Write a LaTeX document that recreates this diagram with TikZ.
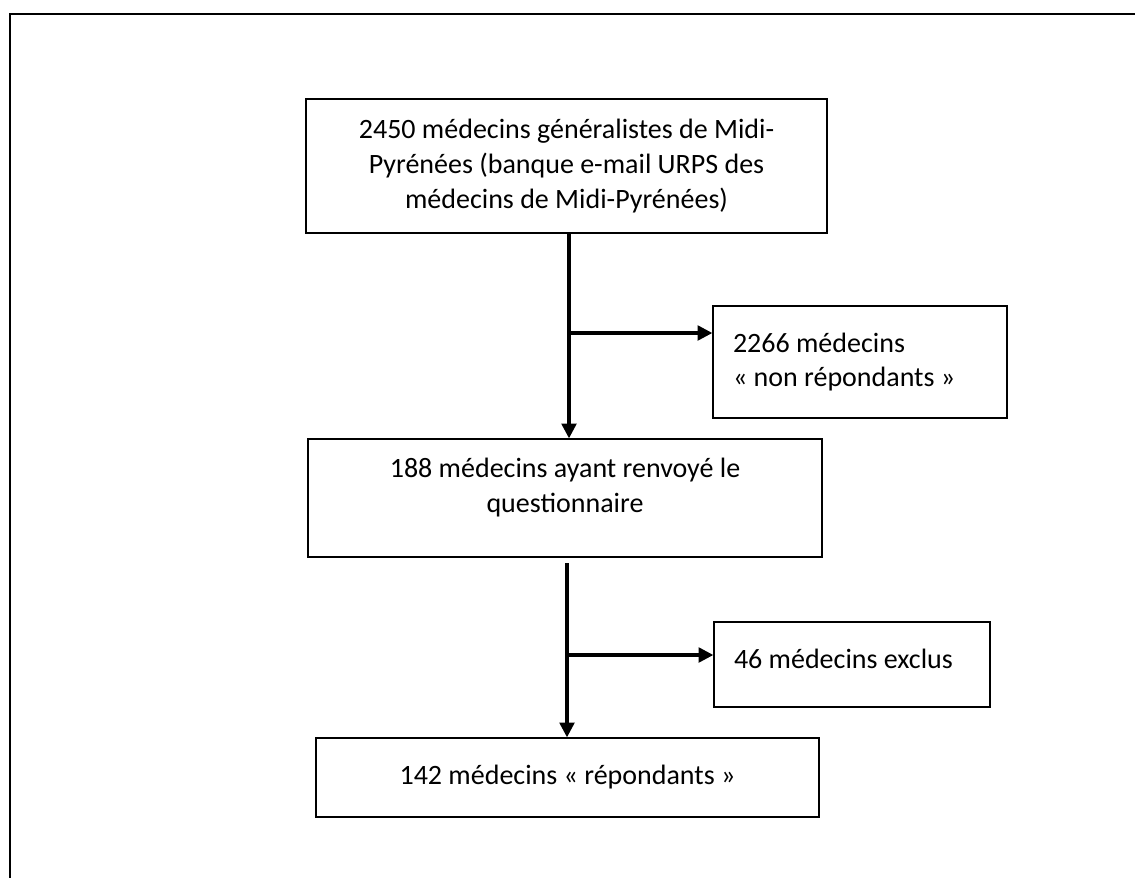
\documentclass[tikz,border=0pt]{standalone}
\usepackage{fontspec}
\newfontfamily\mdc{Carlito}
\usetikzlibrary{arrows.meta}
\tikzset{
  box/.style={draw, line width=1pt, font=\mdc\fontsize{21}{26}\selectfont, inner sep=0pt,
    execute at begin node={\spaceskip=0pt\xspaceskip=0pt\relax}},
  flow/.style={line width=2.3pt, -{Triangle[length=11pt,width=11pt]}},
}
\begin{document}
\begin{tikzpicture}[x=0.75pt,y=-0.75pt]
\useasboundingbox (0,0) rectangle (1135,878);
% PAGE FRAME
\draw [line width=2pt] (1135,14) -- (10,14) -- (10,878);
% BOXES
\node [box, align=center, minimum width=390.75pt, minimum height=100.5pt] (src) at (566.5,166)
  {2450 médecins généralistes de Midi-\\Pyrénées (banque e-mail URPS des\\médecins de Midi-Pyrénées)};
\node [box, text width=190.5pt, inner xsep=15pt, minimum height=84pt] (nonr) at (860,362)
  {2266 médecins\\« non répondants »};
\node [box, align=center, text depth=19pt, minimum width=385.5pt, minimum height=88.5pt] (ret) at (565,498)
  {188 médecins ayant renvoyé le\\questionnaire};
\node [box, text width=177pt, text depth=8pt, inner xsep=15pt, minimum height=63.75pt] (excl) at (852,664.5)
  {46 médecins exclus};
\node [box, align=center, minimum width=377.25pt, minimum height=59.25pt] (resp) at (567.5,777.5)
  {142 médecins « répondants »};
% FLOW ARROWS
\coordinate (j1) at (569,333);
\draw [flow] (src.south -| j1) -- (ret.north -| j1);
\draw [flow] (j1) -- (j1 -| nonr.west);
\coordinate (j2) at (567,655);
\draw [flow, shorten <=4pt] (ret.south -| j2) -- (resp.north -| j2);
\draw [flow] (j2) -- (j2 -| excl.west);
\end{tikzpicture}
\end{document}
